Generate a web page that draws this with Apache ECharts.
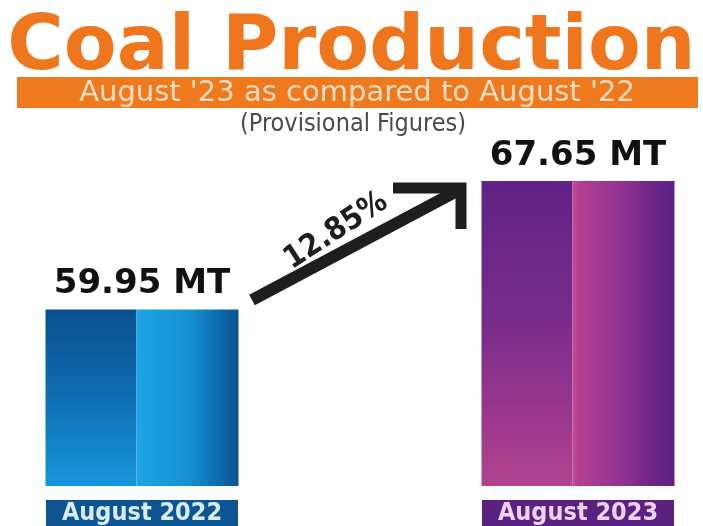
<!DOCTYPE html>
<html>
<head>
<meta charset="utf-8">
<script src="https://cdn.jsdelivr.net/npm/echarts@6/dist/echarts.min.js"></script>
<style>
html,body{margin:0;padding:0;background:#ffffff;}
#chart{width:703px;height:526px;}
</style>
</head>
<body>
<div id="chart"></div>
<script>
// ---- data ----
const categories = ['August 2022', 'August 2023'];
const production = [59.95, 67.65];
const unit = 'MT';
const growthLabel = '12.85%';
const titleText = 'Coal Production';
const subtitleText = "August '23 as compared to August '22";
const noteText = '(Provisional Figures)';

// ---- styles ----
const Y_MIN = 49.37;
const BAR_W = 193;
const SPLIT = 0.47;
const barStyles = [
  {
    left: [{offset:0,color:'#0a4f8c'},{offset:0.45,color:'#0e6ab0'},{offset:1,color:'#1796dc'}],
    right: [{offset:0,color:'#1ca4e6'},{offset:0.5,color:'#1592d6'},{offset:0.8,color:'#0e6cae'},{offset:1,color:'#0a528f'}],
    label: {bg:'#0d5592', fg:'#d8ecf9'}
  },
  {
    left: [{offset:0,color:'#5f2384'},{offset:0.45,color:'#782b8b'},{offset:1,color:'#b3418f'}],
    right: [{offset:0,color:'#c24c9b'},{offset:0.06,color:'#b2408f'},{offset:0.5,color:'#8f3290'},{offset:0.8,color:'#6a2585'},{offset:1,color:'#5c2282'}],
    label: {bg:'#5b2181', fg:'#efd2f4'}
  }
];

const chart = echarts.init(document.getElementById('chart'), null, {renderer:'canvas'});

function renderItem(params, api) {
  const idx = api.value(0);
  const val = api.value(1);
  const top = api.coord([idx, val]);
  const base = api.coord([idx, Y_MIN]);
  const h = base[1] - top[1];
  const x0 = top[0] - BAR_W / 2;
  const half = Math.round(BAR_W * SPLIT);
  const st = barStyles[params.dataIndex];
  return {
    type: 'group',
    children: [
      {type:'rect', shape:{x:x0, y:top[1], width:half, height:h},
       style:{fill:new echarts.graphic.LinearGradient(0,0,0,1,st.left)}},
      {type:'rect', shape:{x:x0+half, y:top[1], width:BAR_W-half, height:h},
       style:{fill:new echarts.graphic.LinearGradient(0,0,1,0,st.right)}},
      {type:'text', x: top[0], y: top[1] - 8,
       style:{text: String(val) + ' ' + unit, fill:'#111',
              fontSize:34, fontWeight:'bold', fontFamily:'DejaVu Sans',
              align:'center', verticalAlign:'bottom',
              textAlign:'center', textVerticalAlign:'bottom'}}
    ]
  };
}

const rich = {};
barStyles.forEach((s, i) => {
  rich['c' + i] = {
    backgroundColor: s.label.bg, color: s.label.fg,
    width: BAR_W - 1, height: 26, lineHeight: 26, align: 'center',
    fontSize: 25, fontWeight: 'bold', fontFamily: 'DejaVu Sans Condensed'
  };
});

const option = {
  backgroundColor: '#ffffff',
  animation: false,
  title: {
    text: titleText,
    left: 'center',
    top: 5,
    textStyle: {color:'#ef761d', fontSize:77, fontWeight:'bold', fontFamily:'DejaVu Sans'}
  },
  grid: {left: 142, right: 125, top: 181, bottom: 34},
  xAxis: {
    type: 'category',
    data: categories,
    boundaryGap: false,
    axisLine: {show:false},
    axisTick: {show:false},
    splitLine: {show:false},
    axisLabel: {
      margin: 14,
      interval: 0,
      formatter: function (v, i) { return '{c' + i + '|' + v + '}'; },
      rich: rich
    }
  },
  yAxis: {
    type: 'value',
    min: Y_MIN,
    max: production[1],
    show: false,
    splitLine: {show:false}
  },
  series: [{
    type: 'custom',
    renderItem: renderItem,
    clip: false,
    encode: {x: 0, y: 1},
    data: production.map((v, i) => [i, v])
  }],
  graphic: [
    {type:'rect', shape:{x:17, y:77, width:681, height:31}, style:{fill:'#ef7a1e'}},
    {type:'text', x:357, y:93,
     style:{text: subtitleText, fill:'#fcdcc2', fontSize:29, fontFamily:'DejaVu Sans',
            align:'center', verticalAlign:'middle', textAlign:'center', textVerticalAlign:'middle'}},
    {type:'text', x:353, y:124,
     style:{text: noteText, fill:'#4a4a4a', fontSize:25, fontFamily:'DejaVu Sans Condensed',
            align:'center', verticalAlign:'middle', textAlign:'center', textVerticalAlign:'middle'}},
    {type:'polyline', shape:{points:[[252,300],[457,191]]},
     style:{stroke:'#1e1e1e', lineWidth:12, lineCap:'butt', fill:null}},
    {type:'polyline', shape:{points:[[393,188],[461,188],[461,229]]},
     style:{stroke:'#1e1e1e', lineWidth:11, lineJoin:'miter', lineCap:'butt', fill:null}},
    {type:'text', x:336, y:231, rotation: 33 * Math.PI / 180,
     style:{text: growthLabel, fill:'#1e1e1e', fontSize:31, fontWeight:'bold', fontFamily:'DejaVu Sans Condensed',
            align:'center', verticalAlign:'middle', textAlign:'center', textVerticalAlign:'middle'}}
  ]
};

chart.setOption(option);
</script>
</body>
</html>
